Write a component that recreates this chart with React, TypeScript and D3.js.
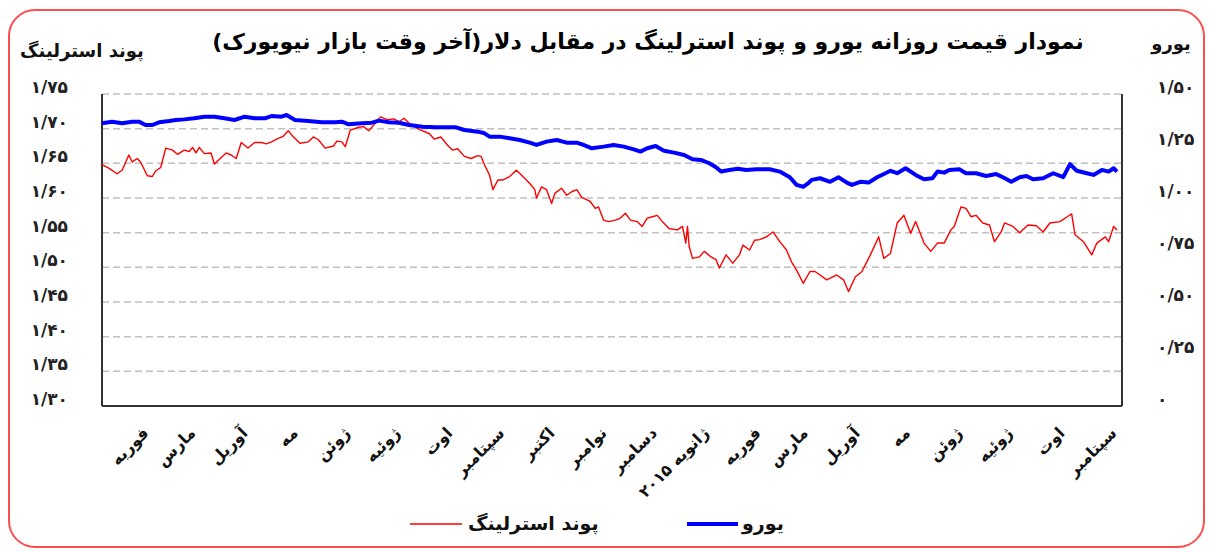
import React, { useEffect, useRef } from 'react';
import * as d3 from 'd3';

// day offsets are counted from the first trading day shown (17 Jan 2014)
const startDate = new Date(2014, 0, 17);
const endDate = new Date(2015, 8, 17);

const title = 'نمودار قیمت روزانه  یورو و پوند استرلینگ در مقابل دلار(آخر وقت بازار نیویورک)';
const gbpName = 'پوند استرلینگ';
const eurName = 'یورو';

const monthLabels = [
  'فوریه', 'مارس', 'آوریل', 'مه', 'ژوئن', 'ژوئیه', 'اوت', 'سپتامبر', 'اکتبر', 'نوامبر',
  'دسامبر', 'ژانویه ۲۰۱۵', 'فوریه', 'مارس', 'آوریل', 'مه', 'ژوئن', 'ژوئیه', 'اوت', 'سپتامبر',
];

const gbpTicks = [1.3, 1.35, 1.4, 1.45, 1.5, 1.55, 1.6, 1.65, 1.7, 1.75];
const gbpTickLabels = ['۱/۳۰', '۱/۳۵', '۱/۴۰', '۱/۴۵', '۱/۵۰', '۱/۵۵', '۱/۶۰', '۱/۶۵', '۱/۷۰', '۱/۷۵'];
const eurTicks = [0, 0.25, 0.5, 0.75, 1, 1.25, 1.5];
const eurTickLabels = ['۰', '۰/۲۵', '۰/۵۰', '۰/۷۵', '۱/۰۰', '۱/۲۵', '۱/۵۰'];

const eurDays = [
  0, 6, 12, 18, 22, 26, 30, 34, 40, 44, 49, 55, 61, 67, 73, 79, 85, 91, 97, 101, 107, 110, 115, 123, 131,
  139, 143, 147, 155, 161, 165, 171, 177, 183, 191, 199, 206, 211, 216, 224, 228, 231, 237, 243, 249, 255,
  259, 265, 271, 277, 283, 287, 292, 299, 305, 311, 317, 321, 325, 330, 335, 341, 347, 352, 357, 362, 366,
  369, 374, 379, 384, 390, 398, 404, 410, 414, 418, 421, 423, 428, 434, 439, 444, 447, 452, 457, 462, 467,
  470, 474, 479, 485, 490, 495, 498, 502, 505, 511, 515, 521, 527, 533, 537, 542, 547, 551, 555, 561, 567,
  573, 577, 581, 587, 591, 596, 600, 603, 605,
];
const eurValues = [
  1.359, 1.367, 1.359, 1.367, 1.367, 1.351, 1.351, 1.364, 1.37, 1.375, 1.378, 1.383, 1.391, 1.391, 1.383,
  1.375, 1.391, 1.383, 1.383, 1.394, 1.391, 1.399, 1.375, 1.37, 1.364, 1.364, 1.367, 1.354, 1.359, 1.362,
  1.372, 1.364, 1.362, 1.351, 1.343, 1.34, 1.34, 1.34, 1.327, 1.319, 1.311, 1.295, 1.295, 1.287, 1.279,
  1.266, 1.255, 1.271, 1.279, 1.266, 1.266, 1.255, 1.239, 1.247, 1.255, 1.247, 1.234, 1.223, 1.239, 1.25,
  1.227, 1.218, 1.207, 1.186, 1.183, 1.167, 1.148, 1.127, 1.135, 1.141, 1.135, 1.138, 1.138, 1.127, 1.1,
  1.063, 1.054, 1.071, 1.087, 1.095, 1.078, 1.1, 1.074, 1.063, 1.078, 1.074, 1.1, 1.119, 1.131, 1.119,
  1.143, 1.111, 1.09, 1.095, 1.127, 1.122, 1.135, 1.138, 1.119, 1.119, 1.106, 1.115, 1.1, 1.078, 1.1,
  1.106, 1.09, 1.095, 1.119, 1.1, 1.163, 1.131, 1.119, 1.111, 1.135, 1.127, 1.143, 1.127,
];

const gbpDays = [
  0, 4, 9, 12, 16, 18, 21, 23, 27, 30, 32, 35, 38, 42, 45, 49, 52, 54, 56, 58, 61, 65, 67, 70, 74, 77, 80,
  83, 87, 91, 95, 98, 101, 105, 108, 111, 113, 118, 123, 126, 129, 133, 138, 140, 143, 145, 148, 153, 156,
  159, 163, 166, 170, 174, 177, 180, 183, 189, 195, 198, 202, 206, 209, 212, 216, 220, 224, 226, 228, 231,
  233, 236, 239, 243, 247, 250, 255, 258, 259, 262, 265, 268, 270, 274, 277, 280, 283, 286, 291, 294, 296,
  299, 302, 306, 309, 312, 315, 319, 322, 325, 328, 331, 334, 338, 343, 346, 348, 349, 350, 352, 356, 359,
  363, 366, 368, 372, 376, 380, 382, 386, 389, 392, 396, 400, 404, 408, 411, 414, 418, 422, 425, 428, 432,
  438, 442, 445, 449, 453, 458, 463, 466, 470, 474, 478, 482, 485, 490, 494, 498, 502, 506, 508, 512, 515,
  518, 521, 525, 529, 532, 536, 538, 543, 547, 552, 557, 561, 565, 571, 576, 578, 580, 585, 590, 593, 598,
  600, 603, 605,
];
const gbpValues = [
  1.648, 1.643, 1.635, 1.64, 1.662, 1.652, 1.657, 1.652, 1.632, 1.631, 1.639, 1.644, 1.672, 1.669, 1.663,
  1.669, 1.667, 1.673, 1.665, 1.673, 1.664, 1.665, 1.649, 1.656, 1.665, 1.662, 1.657, 1.68, 1.672, 1.68,
  1.68, 1.678, 1.681, 1.686, 1.689, 1.697, 1.691, 1.679, 1.681, 1.688, 1.684, 1.672, 1.675, 1.682, 1.681,
  1.674, 1.698, 1.702, 1.703, 1.697, 1.708, 1.717, 1.713, 1.714, 1.71, 1.715, 1.708, 1.699, 1.693, 1.685,
  1.688, 1.676, 1.669, 1.671, 1.66, 1.657, 1.661, 1.66, 1.648, 1.633, 1.612, 1.626, 1.626, 1.631, 1.64,
  1.633, 1.621, 1.612, 1.6, 1.616, 1.612, 1.592, 1.607, 1.614, 1.604, 1.609, 1.612, 1.601, 1.595, 1.585,
  1.587, 1.568, 1.566, 1.568, 1.571, 1.578, 1.568, 1.566, 1.559, 1.571, 1.573, 1.575, 1.566, 1.556, 1.554,
  1.559, 1.535, 1.559, 1.53, 1.513, 1.515, 1.523, 1.515, 1.511, 1.499, 1.518, 1.506, 1.518, 1.532, 1.525,
  1.539, 1.54, 1.544, 1.551, 1.537, 1.525, 1.508, 1.496, 1.477, 1.494, 1.494, 1.489, 1.482, 1.489, 1.482,
  1.465, 1.486, 1.494, 1.518, 1.544, 1.513, 1.52, 1.564, 1.575, 1.549, 1.566, 1.535, 1.523, 1.535, 1.535,
  1.554, 1.559, 1.587, 1.585, 1.573, 1.575, 1.564, 1.561, 1.537, 1.551, 1.564, 1.559, 1.55, 1.561, 1.56,
  1.551, 1.564, 1.566, 1.574, 1.577, 1.547, 1.537, 1.518, 1.535, 1.544, 1.537, 1.559, 1.554,
];

const FONT = '"DejaVu Sans", sans-serif';

const App: React.FC = () => {
  const svgRef = useRef<SVGSVGElement>(null);

  useEffect(() => {
    if (!svgRef.current) return;

    const width = 1211;
    const height = 552;
    const plot = { left: 102, right: 1122, top: 94, bottom: 406 };

    const svg = d3.select(svgRef.current)
      .attr('width', width)
      .attr('height', height)
      .html('');

    const x = d3.scaleTime().domain([startDate, endDate]).range([plot.left, plot.right]);
    const yGbp = d3.scaleLinear().domain([1.3, 1.75]).range([plot.bottom, plot.top]);
    const yEur = d3.scaleLinear().domain([0, 1.5]).range([plot.bottom, plot.top]);

    // outer frame
    svg.append('rect')
      .attr('x', 9).attr('y', 10)
      .attr('width', 1195).attr('height', 537)
      .attr('rx', 26)
      .style('fill', '#fff')
      .style('stroke', '#ff4d4d')
      .style('stroke-width', 2);

    // grid lines
    svg.append('g')
      .selectAll('line')
      .data(gbpTicks.slice(1))
      .enter().append('line')
      .attr('x1', plot.left).attr('x2', plot.right)
      .attr('y1', d => yGbp(d)).attr('y2', d => yGbp(d))
      .style('stroke', '#c0c0c0')
      .style('stroke-width', 1.5)
      .style('stroke-dasharray', '7 4');

    // axis frame lines
    const frame = svg.append('g').style('stroke', '#333').style('stroke-width', 2);
    frame.append('line').attr('x1', plot.left).attr('x2', plot.left).attr('y1', plot.top).attr('y2', plot.bottom);
    frame.append('line').attr('x1', plot.right).attr('x2', plot.right).attr('y1', plot.top).attr('y2', plot.bottom);
    frame.append('line').attr('x1', plot.left).attr('x2', plot.right).attr('y1', plot.bottom).attr('y2', plot.bottom);

    // left axis labels
    svg.append('g')
      .selectAll('text')
      .data(gbpTicks)
      .enter().append('text')
      .attr('x', 68)
      .attr('y', d => yGbp(d) - 7)
      .attr('dy', '0.35em')
      .attr('text-anchor', 'end')
      .style('font', `bold 17px ${FONT}`)
      .style('fill', '#222')
      .text((d, i) => gbpTickLabels[i]);

    // right axis labels
    svg.append('g')
      .selectAll('text')
      .data(eurTicks)
      .enter().append('text')
      .attr('x', 1157)
      .attr('y', d => yEur(d) - 7)
      .attr('dy', '0.35em')
      .attr('text-anchor', 'start')
      .style('font', `bold 17px ${FONT}`)
      .style('fill', '#222')
      .text((d, i) => eurTickLabels[i]);

    // month labels, one per month on the 15th
    svg.append('g')
      .selectAll('text')
      .data(monthLabels)
      .enter().append('text')
      .attr('transform', (d, i) => `translate(${x(d3.timeMonth.offset(new Date(2014, 1, 15), i)) - 1}, 434) rotate(-45)`)
      .attr('text-anchor', 'end')
      .style('font', `bold 16px ${FONT}`)
      .style('fill', '#111')
      .text(d => d);

    // series
    const gbpPoints = gbpDays.map((d, i) => ({ date: d3.timeDay.offset(startDate, d), value: gbpValues[i] }));
    const eurPoints = eurDays.map((d, i) => ({ date: d3.timeDay.offset(startDate, d), value: eurValues[i] }));

    const gbpLine = d3.line<{ date: Date; value: number }>()
      .x(d => x(d.date))
      .y(d => yGbp(d.value));
    const eurLine = d3.line<{ date: Date; value: number }>()
      .x(d => x(d.date))
      .y(d => yEur(d.value));

    svg.append('path')
      .datum(gbpPoints)
      .attr('d', gbpLine as any)
      .style('fill', 'none')
      .style('stroke', '#ff0000')
      .style('stroke-width', 1.4)
      .style('stroke-linejoin', 'round');

    svg.append('path')
      .datum(eurPoints)
      .attr('d', eurLine as any)
      .style('fill', 'none')
      .style('stroke', '#0000ff')
      .style('stroke-width', 4)
      .style('stroke-linejoin', 'round');

    // titles
    svg.append('text')
      .attr('x', 648).attr('y', 49)
      .attr('text-anchor', 'middle')
      .attr('direction', 'rtl')
      .style('font', `bold 22px ${FONT}`)
      .style('fill', '#000')
      .text(title);

    svg.append('text')
      .attr('x', 82).attr('y', 57)
      .attr('text-anchor', 'middle')
      .style('font', `bold 18px ${FONT}`)
      .style('fill', '#111')
      .text(gbpName);

    svg.append('text')
      .attr('x', 1171).attr('y', 50)
      .attr('text-anchor', 'middle')
      .style('font', `bold 18px ${FONT}`)
      .style('fill', '#111')
      .text(eurName);

    // legend
    const legend = svg.append('g');
    legend.append('line')
      .attr('x1', 410).attr('x2', 462).attr('y1', 524).attr('y2', 524)
      .style('stroke', '#ff0000').style('stroke-width', 1.5);
    legend.append('text')
      .attr('x', 468).attr('y', 530)
      .style('font', `bold 19px ${FONT}`)
      .style('fill', '#111')
      .text(gbpName);
    legend.append('line')
      .attr('x1', 687).attr('x2', 738).attr('y1', 524).attr('y2', 524)
      .style('stroke', '#0000ff').style('stroke-width', 4);
    legend.append('text')
      .attr('x', 742).attr('y', 530)
      .style('font', `bold 19px ${FONT}`)
      .style('fill', '#111')
      .text(eurName);
  }, []);

  return (
    <svg ref={svgRef} style={{ position: 'absolute', left: 0, top: 0, background: '#fff' }}></svg>
  );
};

export default App;
